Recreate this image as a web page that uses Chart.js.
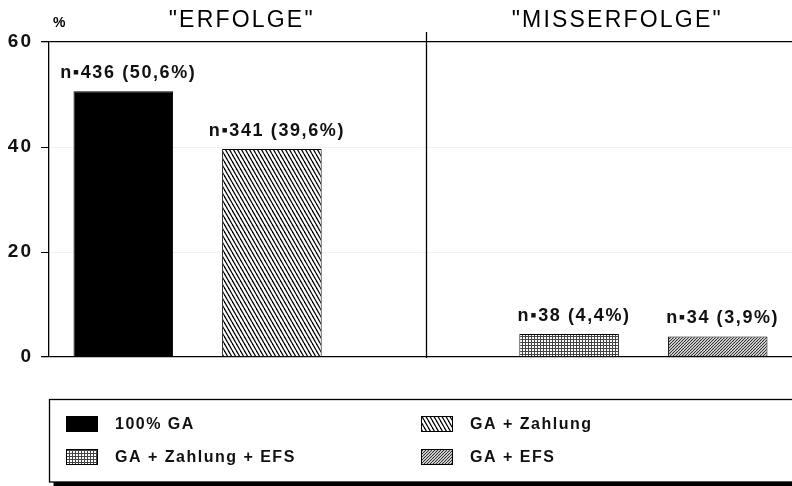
<!DOCTYPE html>
<html>
<head>
<meta charset="utf-8">
<script src="https://cdn.jsdelivr.net/npm/chart.js@4.4.1/dist/chart.umd.min.js"></script>
<style>
  html, body { margin: 0; padding: 0; background: #fff; }
  #wrap { width: 792px; height: 486px; position: relative; }
</style>
</head>
<body>
<div id="wrap"><canvas id="myChart"></canvas></div>
<script>
const categories = ['100% GA', 'GA + Zahlung', '', 'GA + Zahlung + EFS', 'GA + EFS']
const percents = [50.6, 39.6, null, 4.4, 3.9]
const counts = [436, 341, null, 38, 34]
const yTicks = [0, 20, 40, 60]
const groupTitles = ['"ERFOLGE"', '"MISSERFOLGE"']
const legendOrder = [0, 1, 3, 4]

const FONT = "'Liberation Sans', Arial, sans-serif"

// kleine Kachel-Muster wie beim alten Plotter
const makePattern = (w, h, paint) => {
    const c = document.createElement('canvas')
    c.width = w
    c.height = h
    const p = c.getContext('2d')
    p.fillStyle = '#fff'
    p.fillRect(0, 0, w, h)
    paint(p, w, h)
    return c.getContext('2d').createPattern(c, 'repeat')
}

const hatchBack = makePattern(4, 7, (p, w, h) => {
    p.strokeStyle = '#000'
    p.lineWidth = 1.3
    for (let k = -1; k <= 1; k++) {
        p.beginPath()
        p.moveTo(k * w, 0)
        p.lineTo(k * w + w, h)
        p.stroke()
    }
})

const hatchFwd = makePattern(3, 3, (p, w, h) => {
    p.strokeStyle = '#222'
    p.lineWidth = 1.05
    for (let k = -1; k <= 1; k++) {
        p.beginPath()
        p.moveTo(k * w, h)
        p.lineTo(k * w + w, 0)
        p.stroke()
    }
})

const dots = makePattern(3, 3, (p) => {
    p.fillStyle = '#444'
    p.fillRect(0, 0, 3, 1)
    p.fillRect(0, 0, 1, 3)
})

const fills = ['#000', hatchBack, '#fff', dots, hatchFwd]

const fmtLabel = (i) => 'n\u25AA' + counts[i] + ' (' + percents[i].toFixed(1).replace('.', ',') + '%)'

const decoPlugin = {
    id: 'deco',
    beforeDraw: (chart) => {
        chart.ctx.letterSpacing = '2px'
    },
    afterDatasetsDraw: (chart) => {
        const ctx = chart.ctx
        const area = chart.chartArea
        const x = chart.scales.x
        ctx.save()

        // Trennlinie zwischen den Gruppen
        const divX = Math.round(x.getPixelForValue(2) + 5) + 0.5
        ctx.strokeStyle = '#000'
        ctx.lineWidth = 1.3
        ctx.beginPath()
        ctx.moveTo(divX, area.top - 10)
        ctx.lineTo(divX, area.bottom + 1)
        ctx.stroke()

        // Beschriftung ueber den Balken
        ctx.fillStyle = '#111'
        ctx.font = 'bold 18px ' + FONT
        ctx.letterSpacing = '1.6px'
        ctx.textAlign = 'center'
        ctx.textBaseline = 'middle'
        const meta = chart.getDatasetMeta(0)
        meta.data.forEach((bar, i) => {
            if (percents[i] === null) return
            ctx.fillText(fmtLabel(i), bar.x + 5, bar.y - 18)
        })

        // Gruppentitel
        ctx.font = '23px ' + FONT
        ctx.letterSpacing = '2.2px'
        ctx.fillStyle = '#000'
        ctx.fillText(groupTitles[0], (area.left + divX) / 2 + 4, 21)
        ctx.fillText(groupTitles[1], (divX + area.right) / 2 + 8, 21)

        ctx.font = 'bold 14px ' + FONT
        ctx.letterSpacing = '0px'
        ctx.textAlign = 'left'
        ctx.fillText('%', area.left + 4, 23)

        // Legende mit Rahmen und Schatten
        const boxL = area.left + 0.5
        const boxT = 399.5
        const boxB = 482
        ctx.fillStyle = '#000'
        ctx.fillRect(boxL + 4, boxB, chart.width - boxL, 4)
        ctx.lineWidth = 1.3
        ctx.strokeRect(boxL, boxT, chart.width - boxL + 5, boxB - boxT)

        ctx.font = 'bold 16px ' + FONT
        ctx.letterSpacing = '1.5px'
        ctx.textBaseline = 'middle'
        legendOrder.forEach((idx, n) => {
            const col = n % 2
            const row = Math.floor(n / 2)
            const sx = 66 + col * 355
            const sy = 416 + row * 33
            ctx.fillStyle = fills[idx]
            ctx.fillRect(sx, sy, 32, 16)
            ctx.lineWidth = 1
            ctx.strokeStyle = '#000'
            ctx.strokeRect(sx + 0.5, sy + 0.5, 31, 15)
            ctx.fillStyle = '#111'
            ctx.fillText(categories[idx], sx + 49, sy + 9)
        })
        ctx.restore()
    }
}

const ctx = document.querySelector('#myChart').getContext('2d')

new Chart(ctx, {
    type: 'bar',
    data: {
        labels: categories,
        datasets: [
            {
                data: percents,
                backgroundColor: fills,
                borderColor: '#000',
                borderWidth: 1,
                borderSkipped: 'bottom',
                barPercentage: 0.67,
                categoryPercentage: 1
            }
        ]
    },
    options: {
        responsive: true,
        maintainAspectRatio: false,
        animation: false,
        devicePixelRatio: 1,
        layout: {
            padding: { top: 42, bottom: 129, left: 0, right: 0 }
        },
        scales: {
            x: {
                display: false
            },
            y: {
                min: 0,
                max: 60,
                afterFit: (scale) => { scale.width = 49 },
                afterBuildTicks: (scale) => {
                    scale.ticks = yTicks.map(v => ({ value: v }))
                },
                ticks: {
                    padding: 8,
                    color: '#111',
                    font: { family: FONT, size: 19, weight: 'bold' }
                },
                border: {
                    display: true,
                    color: '#000',
                    width: 1.3
                },
                grid: {
                    tickLength: 8,
                    tickColor: '#000',
                    lineWidth: (c) => (c.tick && (c.tick.value === 0 || c.tick.value === 60)) ? 1.3 : 1,
                    color: (c) => (c.tick && (c.tick.value === 0 || c.tick.value === 60)) ? '#000' : '#f0f0f0'
                }
            }
        },
        plugins: {
            legend: { display: false },
            tooltip: { enabled: false }
        }
    },
    plugins: [decoPlugin]
})
</script>
</body>
</html>
